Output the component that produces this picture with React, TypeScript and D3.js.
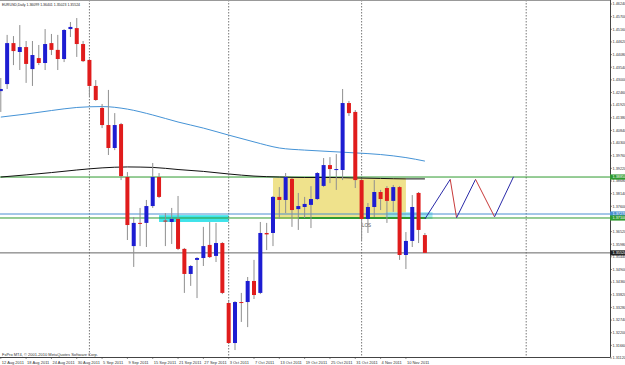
import * as d3 from "d3";

// EURUSD daily, 12 Aug 2011 .. 15 Nov 2011 (one entry per bar)
const opens = [
  1.4252, 1.4282, 1.4457, 1.4419, 1.444, 1.4346, 1.4393, 1.4372, 1.4457, 1.4428,
  1.4389, 1.4517, 1.4521, 1.4453, 1.4385, 1.4274, 1.418, 1.4107, 1.4009, 1.4111,
  1.3885, 1.359, 1.3689, 1.3689, 1.3761, 1.3885, 1.3699, 1.3693, 1.3706, 1.3578,
  1.3471, 1.3531, 1.3539, 1.3595, 1.3548, 1.3603, 1.3347, 1.3176, 1.3351, 1.3351,
  1.3441, 1.339, 1.3646, 1.3646, 1.38, 1.3787, 1.3877, 1.3748, 1.3757, 1.3766,
  1.3791, 1.3847, 1.3936, 1.3917, 1.3915, 1.4201, 1.4163, 1.3872, 1.3706, 1.3757,
  1.3821, 1.3838, 1.3783, 1.3842, 1.3552, 1.3612, 1.3817, 1.3637
];
const highs = [
  1.4308, 1.4492, 1.4487, 1.4534, 1.4466, 1.4466, 1.4449, 1.4517, 1.4496, 1.4492,
  1.4517, 1.4547, 1.4564, 1.4466, 1.4389, 1.4299, 1.4197, 1.4257, 1.4158, 1.4116,
  1.3906, 1.3714, 1.3753, 1.3787, 1.3945, 1.3902, 1.3731, 1.3753, 1.3804, 1.3582,
  1.3509, 1.3543, 1.3672, 1.3693, 1.3689, 1.3607, 1.336, 1.3355, 1.339, 1.3458,
  1.3531, 1.3693, 1.3689, 1.3804, 1.3842, 1.3902, 1.3881, 1.3817, 1.38, 1.3846,
  1.3906, 1.3966, 1.397, 1.3983, 1.4261, 1.421, 1.4171, 1.3877, 1.3774, 1.3872,
  1.383, 1.3846, 1.3851, 1.3846, 1.365, 1.3808, 1.3821, 1.3646
];
const lows = [
  1.4163, 1.4261, 1.4363, 1.4342, 1.4287, 1.4274, 1.4363, 1.4342, 1.4406, 1.4342,
  1.4376, 1.4483, 1.4398, 1.4376, 1.4231, 1.421, 1.4094, 1.3979, 1.4, 1.3872,
  1.3616, 1.3501, 1.359, 1.3586, 1.3753, 1.3795, 1.359, 1.3599, 1.3573, 1.339,
  1.342, 1.3368, 1.3505, 1.3539, 1.3522, 1.3385, 1.3172, 1.3146, 1.3266, 1.3244,
  1.3364, 1.3385, 1.3573, 1.359, 1.3706, 1.3731, 1.3672, 1.3659, 1.371, 1.3667,
  1.3787, 1.3842, 1.3859, 1.383, 1.3872, 1.4146, 1.3838, 1.3616, 1.3646, 1.3714,
  1.3744, 1.3689, 1.3736, 1.3531, 1.3492, 1.3586, 1.3603, 1.3561
];
const closes = [
  1.4261, 1.4457, 1.4423, 1.444, 1.4368, 1.4406, 1.4372, 1.4453, 1.4428, 1.4389,
  1.4513, 1.4526, 1.4453, 1.438, 1.4274, 1.4214, 1.4107, 1.4009, 1.4107, 1.3889,
  1.368, 1.3689, 1.3687, 1.3761, 1.3885, 1.38, 1.3695, 1.3706, 1.3578, 1.3471,
  1.3505, 1.3539, 1.359, 1.3543, 1.3603, 1.339, 1.3176, 1.3351, 1.3349, 1.3441,
  1.3381, 1.3646, 1.364, 1.38, 1.3787, 1.3885, 1.3744, 1.3761, 1.377, 1.3791,
  1.3902, 1.3936, 1.3919, 1.3919, 1.4201, 1.4158, 1.3872, 1.3706, 1.3757, 1.3821,
  1.3791, 1.3783, 1.3842, 1.3552, 1.3612, 1.3757, 1.3659, 1.3561
];

const tickBars = [0, 4, 8, 12, 16, 20, 24, 28, 32, 36, 40, 44, 48, 52, 56, 60, 64];
const tickDates = [
  "12 Aug 2011", "18 Aug 2011", "24 Aug 2011", "30 Aug 2011", "5 Sep 2011",
  "9 Sep 2011", "15 Sep 2011", "21 Sep 2011", "27 Sep 2011", "3 Oct 2011",
  "7 Oct 2011", "13 Oct 2011", "19 Oct 2011", "25 Oct 2011", "31 Oct 2011",
  "4 Nov 2011", "10 Nov 2011"
];

const priceLabels = [
  "1.31120", "1.31660", "1.32200", "1.32740", "1.33280", "1.33820", "1.34360",
  "1.34900", "1.35440", "1.35980", "1.36520", "1.37060", "1.37600", "1.38140",
  "1.38680", "1.39220", "1.39760", "1.40300", "1.40840", "1.41380", "1.41920",
  "1.42460", "1.43000", "1.43540", "1.44080", "1.44620", "1.45160", "1.45700",
  "1.46240"
];

// moving averages, read every 4 bars
const maBars = [0, 4, 8, 12, 16, 20, 24, 28, 32, 36, 40, 44, 48, 52, 56, 60, 64, 67];
const maBlue = [
  1.4141, 1.4154, 1.4169, 1.4182, 1.4186, 1.4175, 1.415, 1.412, 1.4094, 1.4064,
  1.4035, 1.4009, 1.4, 1.3994, 1.3988, 1.3981, 1.3968, 1.3953
];
const maBlack = [
  1.3885, 1.3894, 1.3904, 1.3915, 1.3924, 1.3928, 1.3926, 1.3917, 1.3909, 1.3898,
  1.3889, 1.3885, 1.3883, 1.3883, 1.3881, 1.3879, 1.3877, 1.3877
];

// projected zigzag
const zigBars = [67, 71, 72, 75, 78, 81];
const zigPrices = [1.3706, 1.3875, 1.3711, 1.3875, 1.3715, 1.3886];

const levelPrices = [1.3885, 1.3727, 1.371];
const levelLabels = ["1.38850", "1.37270", "1.37100"];
const bidLabel = "1.35524";

const separatorBars = [14, 36, 57, 83];

const header = "EURUSD,Daily 1.36099 1.36401 1.35023 1.35524";
const footer = "FxPro MT4, \u00a9 2001-2010 MetaQuotes Software Corp.";

const width = 625;
const height = 365;
const plotRight = 610;
const plotBottom = 357;
const font = "'Liberation Sans', Arial, sans-serif";

export default function App() {
  const x = d3.scaleLinear().domain([0, 100]).range([0.8, 633.8]);
  const y = d3.scaleLinear().domain([1.3112, 1.4624]).range([358, 4]);

  const maLine = d3
    .line<number>()
    .curve(d3.curveMonotoneX)
    .x((_, i) => x(maBars[i]))
    .y((v) => y(v));

  const lastClose = closes[closes.length - 1];
  const levelColors = ["#2f9a2f", "#4a8fd0", "#2f9a2f"];

  return (
    <svg
      width={width}
      height={height}
      style={{ position: "absolute", left: 0, top: 0, background: "#fff" }}
      fontFamily={font}
    >
      <defs>
        <clipPath id="plot">
          <rect x={0} y={0} width={plotRight} height={plotBottom} />
        </clipPath>
      </defs>

      <g clipPath="url(#plot)">
        {/* zones */}
        <rect
          x={x(43)}
          width={x(64) - x(43)}
          y={y(1.3881)}
          height={y(1.3706) - y(1.3881)}
          fill="#efe28c"
        />
        <rect
          x={x(25)}
          width={x(36) - x(25)}
          y={y(1.3722)}
          height={y(1.3693) - y(1.3722)}
          fill="#3fe3ea"
        />
        <rect
          x={x(60.8)}
          width={x(68.2) - x(60.8)}
          y={y(1.3735)}
          height={y(1.3706) - y(1.3735)}
          fill="#8fe9f0"
          opacity={0.8}
        />

        {separatorBars.map((b) => (
          <line
            key={b}
            x1={x(b)}
            x2={x(b)}
            y1={0}
            y2={plotBottom}
            stroke="#555"
            strokeWidth={0.8}
            strokeDasharray="1.5,1.5"
          />
        ))}

        {/* levels */}
        {levelPrices.map((p, i) => (
          <line
            key={i}
            x1={0}
            x2={plotRight}
            y1={y(p)}
            y2={y(p)}
            stroke={levelColors[i]}
            strokeWidth={1}
          />
        ))}
        <line
          x1={x(47)}
          x2={x(67.2)}
          y1={y(levelPrices[2])}
          y2={y(levelPrices[2])}
          stroke="#2f9a2f"
          strokeWidth={2}
        />
        <line
          x1={0}
          x2={plotRight}
          y1={y(lastClose)}
          y2={y(lastClose)}
          stroke="#666"
          strokeWidth={1}
        />

        <path d={maLine(maBlue) ?? ""} fill="none" stroke="#4593d6" strokeWidth={1} />
        <path d={maLine(maBlack) ?? ""} fill="none" stroke="#111" strokeWidth={1} />

        {/* candles */}
        {opens.map((o, i) => {
          const c = closes[i];
          const cx = x(i);
          const up = c >= o;
          const top = y(Math.max(o, c));
          const bot = y(Math.min(o, c));
          const color = up ? "#1d1dd2" : "#e01c1c";
          return (
            <g key={i}>
              <line
                x1={cx}
                x2={cx}
                y1={y(highs[i])}
                y2={y(lows[i])}
                stroke="#8f8f8f"
                strokeWidth={1}
              />
              <rect
                x={cx - 2}
                width={4}
                y={top}
                height={Math.max(bot - top, 1)}
                fill={color}
              />
            </g>
          );
        })}

        {/* zigzag projection */}
        {zigBars.slice(1).map((b, i) => {
          const up = zigPrices[i + 1] > zigPrices[i];
          return (
            <line
              key={b}
              x1={x(zigBars[i])}
              y1={y(zigPrices[i])}
              x2={x(b)}
              y2={y(zigPrices[i + 1])}
              stroke={up ? "#2a2aa8" : "#c83a3a"}
              strokeWidth={1}
            />
          );
        })}

        <text x={362} y={227} fontSize={4.5} fill="#555">
          LOS
        </text>
      </g>

      {/* frame */}
      <line x1={0} x2={plotRight} y1={0.5} y2={0.5} stroke="#999" />
      <line x1={plotRight + 0.5} x2={plotRight + 0.5} y1={0} y2={plotBottom} stroke="#444" />
      <line x1={0} x2={plotRight + 0.5} y1={plotBottom + 0.5} y2={plotBottom + 0.5} stroke="#444" />

      <text x={2} y={6} fontSize={3.5} fill="#222">
        {header}
      </text>
      <text x={2} y={356} fontSize={4} fill="#333">
        {footer}
      </text>

      {/* price axis */}
      {priceLabels.map((l) => {
        const py = y(+l);
        return (
          <g key={l}>
            <line x1={plotRight} x2={plotRight + 2} y1={py} y2={py} stroke="#444" strokeWidth={0.6} />
            <text x={plotRight + 2.5} y={py} dy="0.35em" fontSize={3.8} fill="#333">
              {l}
            </text>
          </g>
        );
      })}
      {levelPrices.map((p, i) => (
        <g key={i}>
          <rect x={plotRight} y={y(p) - 2.6} width={15} height={5.2} fill={levelColors[i]} />
          <text x={plotRight + 2.5} y={y(p)} dy="0.35em" fontSize={3.8} fill="#fff">
            {levelLabels[i]}
          </text>
        </g>
      ))}
      <rect x={plotRight} y={y(lastClose) - 2.6} width={15} height={5.2} fill="#222" />
      <text x={plotRight + 2.5} y={y(lastClose)} dy="0.35em" fontSize={3.8} fill="#fff">
        {bidLabel}
      </text>

      {/* time axis */}
      {tickBars.map((b, i) => (
        <g key={b}>
          <line x1={x(b)} x2={x(b)} y1={plotBottom} y2={plotBottom + 2} stroke="#444" strokeWidth={0.6} />
          <text x={x(b) + 1} y={363.5} fontSize={4} fill="#333">
            {tickDates[i]}
          </text>
        </g>
      ))}
    </svg>
  );
}
